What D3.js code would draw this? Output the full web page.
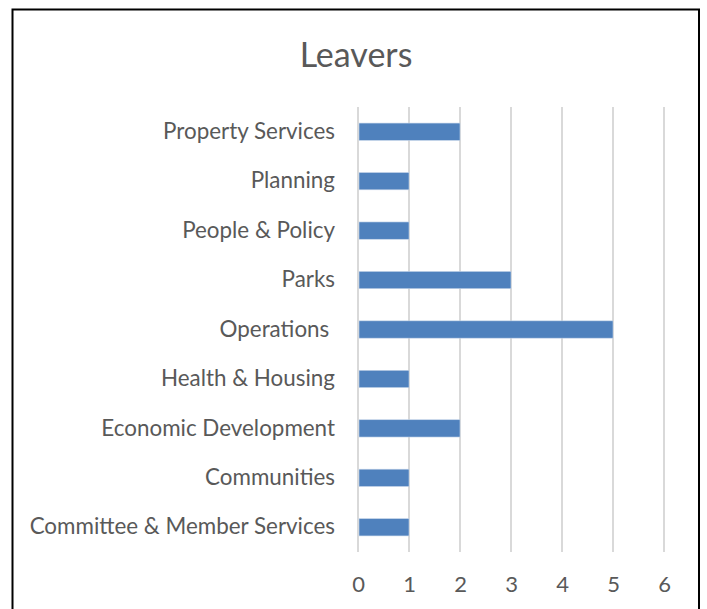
<!DOCTYPE html>
<html>
<head>
<meta charset="utf-8">
<script src="https://cdn.jsdelivr.net/npm/d3@7"></script>
<style>
  html, body { margin: 0; padding: 0; background: #fff; }
  svg { display: block; }
</style>
</head>
<body>
<svg id="chart" width="707" height="609"></svg>
<script>
// Leavers per department
const categories = [
  "Property Services",
  "Planning",
  "People & Policy",
  "Parks",
  "Operations ",
  "Health & Housing",
  "Economic Development",
  "Communities",
  "Committee & Member Services"
];
const leavers = [2, 1, 1, 3, 5, 1, 2, 1, 1];
const xTicks = [0, 1, 2, 3, 4, 5, 6];

const svg = d3.select("#chart");
const font = "Lato, 'Open Sans', sans-serif";
const textColor = "#595959";

// chart frame (bottom edge runs past the page)
svg.append("path")
  .attr("d", "M12.5,640 L12.5,9.5 L699,9.5 L699,640")
  .attr("fill", "none")
  .attr("stroke", "#000")
  .attr("stroke-width", 2);

svg.append("text")
  .attr("x", 356)
  .attr("y", 67)
  .attr("text-anchor", "middle")
  .attr("font-family", font)
  .attr("font-size", 34)
  .attr("fill", textColor)
  .text("Leavers");

const x = d3.scaleLinear().domain([0, 6]).range([358, 664]);
const y = d3.scaleBand().domain(categories).range([107, 552]).paddingInner(0.65).paddingOuter(0.325);

// vertical gridlines
svg.append("g")
  .selectAll("line")
  .data(xTicks)
  .join("line")
  .attr("x1", d => x(d))
  .attr("x2", d => x(d))
  .attr("y1", 107)
  .attr("y2", 552)
  .attr("stroke", "#d9d9d9")
  .attr("stroke-width", 2);

// bars
svg.append("g")
  .selectAll("rect")
  .data(categories)
  .join("rect")
  .attr("x", x(0) + 1)
  .attr("y", d => y(d))
  .attr("width", (d, i) => x(leavers[i]) - x(0) - 1)
  .attr("height", y.bandwidth())
  .attr("fill", "#4F81BD")
  .attr("stroke", "#c7d6ea")
  .attr("stroke-width", 0.6);

// category labels
const yAxis = d3.axisLeft(y).tickSize(0).tickPadding(23);
const gy = svg.append("g").attr("transform", `translate(${x(0)},0)`).call(yAxis);
gy.select(".domain").remove();
gy.selectAll("text")
  .attr("font-family", font)
  .attr("font-size", 22.4)
  .attr("fill", textColor)
  .style("white-space", "pre");

// value axis labels
const xAxis = d3.axisBottom(x).tickValues(xTicks).tickFormat(d3.format("d")).tickSize(0).tickPadding(24);
const gx = svg.append("g").attr("transform", "translate(0,552)").call(xAxis);
gx.select(".domain").remove();
gx.selectAll("text")
  .attr("font-family", font)
  .attr("font-size", 22)
  .attr("fill", textColor);
</script>
</body>
</html>
